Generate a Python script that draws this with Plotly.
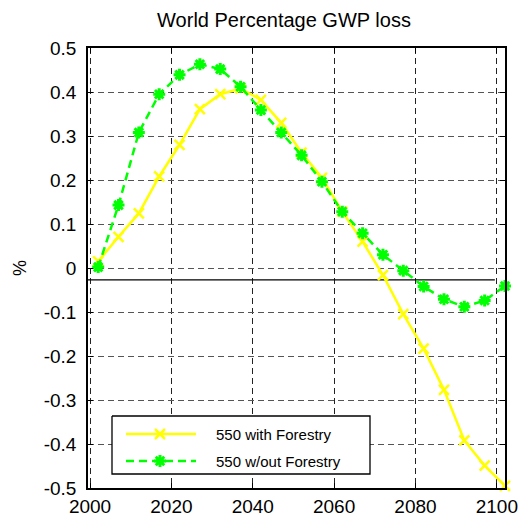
import plotly.graph_objects as go

# Years of the model periods
years = [2002, 2007, 2012, 2017, 2022, 2027, 2032, 2037, 2042, 2047, 2052,
         2057, 2062, 2067, 2072, 2077, 2082, 2087, 2092, 2097, 2102]

# Percentage GWP loss, scenario with forestry
with_forestry = [0.015, 0.071, 0.124, 0.208, 0.280, 0.361, 0.395, 0.408, 0.382, 0.330, 0.262,
                 0.205, 0.128, 0.060, -0.016, -0.105, -0.183, -0.277, -0.392, -0.449, -0.495]

# Percentage GWP loss, scenario without forestry
without_forestry = [0.002, 0.143, 0.308, 0.395, 0.439, 0.463, 0.452, 0.412, 0.359, 0.308, 0.256,
                    0.196, 0.128, 0.079, 0.030, -0.006, -0.042, -0.071, -0.088, -0.074, -0.041]

# Reference baseline
baseline_x = [1999, 2099.5]
baseline_y = [-0.027, -0.027]

x_ticks = [2000, 2020, 2040, 2060, 2080, 2100]
y_ticks = [0.5, 0.4, 0.3, 0.2, 0.1, 0, -0.1, -0.2, -0.3, -0.4, -0.5]
y_tick_text = ["0.5", "0.4", "0.3", "0.2", "0.1", "0", "-0.1", "-0.2", "-0.3", "-0.4", "-0.5"]

series_names = ["550 with Forestry", "550 w/out Forestry"]
YELLOW = "#FFFF00"
GREEN = "#00FF00"
FONT = "Liberation Sans, Arial, sans-serif"

W, H = 522, 521
ML, MR, MT, MB = 88, 17, 48, 33

fig = go.Figure()

fig.add_trace(go.Scatter(
    x=baseline_x, y=baseline_y, mode="lines",
    line=dict(color="black", width=1.2), showlegend=False, hoverinfo="skip",
))

fig.add_trace(go.Scatter(
    x=years, y=with_forestry, mode="lines+markers", name=series_names[0],
    line=dict(color=YELLOW, width=2.5), cliponaxis=False, showlegend=False,
    marker=dict(symbol="x-thin-open", size=10, color=YELLOW,
                line=dict(color=YELLOW, width=2.5)),
))

fig.add_trace(go.Scatter(
    x=years, y=without_forestry, mode="lines+markers", name=series_names[1],
    line=dict(color=GREEN, width=2.5, dash="8px,5px"), cliponaxis=False, showlegend=False,
    marker=dict(symbol="asterisk-open", size=10, color=GREEN,
                line=dict(color=GREEN, width=3)),
))

# Legend panel drawn on an overlay axis measured in pixels of the page
box_l, box_r, box_t, box_b = 112, 370, 416, 474
row_y = [434, 461]
sample_l, sample_r, sample_mid, text_x = 126, 196, 160, 214

fig.add_trace(go.Scatter(
    x=[box_l, box_r, box_r, box_l, box_l], y=[box_t, box_t, box_b, box_b, box_t],
    xaxis="x2", yaxis="y2", mode="lines", fill="toself", fillcolor="white",
    line=dict(color="black", width=1.3), showlegend=False, hoverinfo="skip",
))
for name, color, dash, sym, mlw, ry in [
    (series_names[0], YELLOW, "solid", "x-thin-open", 2.5, row_y[0]),
    (series_names[1], GREEN, "8px,5px", "asterisk-open", 3, row_y[1]),
]:
    fig.add_trace(go.Scatter(
        x=[sample_l, sample_r], y=[ry, ry], xaxis="x2", yaxis="y2", mode="lines",
        line=dict(color=color, width=2.5, dash=dash), showlegend=False, hoverinfo="skip",
    ))
    fig.add_trace(go.Scatter(
        x=[sample_mid], y=[ry], xaxis="x2", yaxis="y2", mode="markers",
        marker=dict(symbol=sym, size=10, color=color, line=dict(color=color, width=mlw)),
        showlegend=False, hoverinfo="skip",
    ))

annotations = [
    dict(text="%", x=-68 / (W - ML - MR), y=0.5, xref="paper", yref="paper",
         xanchor="center", yanchor="middle", showarrow=False,
         textangle=-90, font=dict(size=18)),
]
for name, ry in zip(series_names, row_y):
    annotations.append(dict(text=name, x=text_x, y=ry, xref="x2", yref="y2",
                            xanchor="left", yanchor="middle", showarrow=False,
                            font=dict(size=15)))

fig.update_layout(
    width=W, height=H,
    margin=dict(l=ML, r=MR, t=MT, b=MB, autoexpand=False),
    paper_bgcolor="white", plot_bgcolor="white",
    font=dict(family=FONT, size=18, color="black"),
    title=dict(text="World Percentage GWP loss", x=284 / W,
               xanchor="center", y=1 - 20 / H, yanchor="middle", font=dict(size=20)),
    showlegend=False,
    annotations=annotations,
    xaxis=dict(
        range=[1999.5, 2102], tickvals=x_ticks, automargin=False,
        showline=True, linecolor="black", linewidth=1.5, mirror="allticks",
        ticks="inside", ticklen=5, tickcolor="black",
        showgrid=True, gridcolor="#222222", gridwidth=1, griddash="6px,4px",
        zeroline=False, tickfont=dict(size=19),
    ),
    yaxis=dict(
        range=[-0.5, 0.5], tickvals=y_ticks, ticktext=y_tick_text, automargin=False,
        showline=True, linecolor="black", linewidth=1.5, mirror="allticks",
        ticks="inside", ticklen=5, tickcolor="black",
        showgrid=True, gridcolor="#555555", gridwidth=1, griddash="6px,4px",
        zeroline=False, tickfont=dict(size=19), ticklabelstandoff=6,
    ),
    xaxis2=dict(overlaying="x", range=[ML, W - MR], visible=False, fixedrange=True,
                automargin=False),
    yaxis2=dict(overlaying="y", range=[H - MB, MT], visible=False, fixedrange=True,
                automargin=False),
)

fig.write_html("out.html")
